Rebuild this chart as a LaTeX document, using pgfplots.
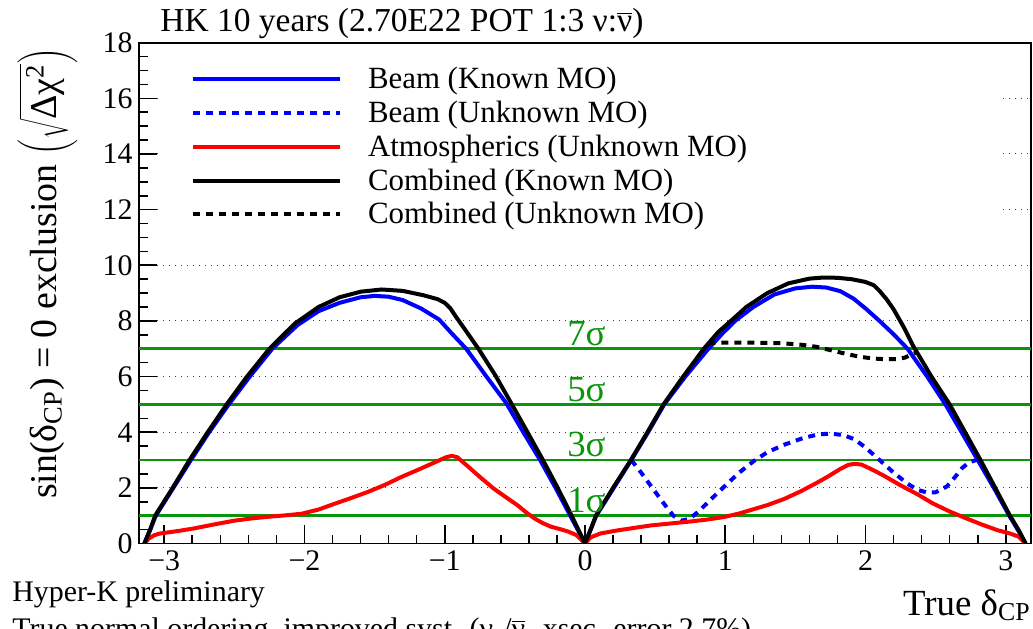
\documentclass[border=0pt]{standalone}
\usepackage{fontspec}
\setmainfont{Liberation Serif}
\usepackage{pgfplots}
\pgfplotsset{compat=1.18}
\definecolor{rootgreen}{RGB}{10,150,10}
\definecolor{rootblue}{RGB}{0,0,255}
\definecolor{rootred}{RGB}{255,0,0}

\begin{document}
\begin{tikzpicture}
\begin{axis}[
    name=ax,
    scale only axis,
    width=446bp, height=250.4bp,
    xmin=-3.18, xmax=3.18, ymin=0, ymax=18,
    axis line style={line width=0.9bp},
    tick align=inside, tick pos=left,
    tick style={line width=0.8bp, black},
    major tick length=9bp, minor tick length=4.5bp,
    xtick={-3,-2,-1,0,1,2,3},
    xticklabels={−3,−2,−1,0,1,2,3},
    minor x tick num=4,
    ytick={0,2,...,18}, minor y tick num=3,
    ymajorgrids=true,
    major grid style={dash pattern=on 0.5bp off 2.5bp, line width=0.5bp, black!75},
    /pgf/number format/assume math mode=true,
    tick label style={font=\fontsize{15}{18}\selectfont},
    yticklabel style={anchor=east, inner sep=0pt, xshift=-3bp},
    xticklabel style={anchor=north, inner sep=0pt, yshift=-3.5bp},
    xlabel={True δ\textsubscript{CP}},
    xlabel style={at={(axis description cs:1,0)}, anchor=base east, yshift=-35.75bp, inner sep=0pt, font=\fontsize{18.5}{21}\selectfont},
    ylabel={sin(δ\textsubscript{CP}) = 0 exclusion $\left(\sqrt{\mbox{Δχ\textsuperscript{2}}}\right)$},
    ylabel style={at={(axis description cs:-0.093,0.539)}, anchor=base, inner sep=0pt, font=\fontsize{19}{22}\selectfont},
    legend style={at={(axis description cs:0.0583,0.9539)}, anchor=north west, draw=none, fill=none,
        inner sep=0pt, outer sep=0pt, row sep=3.4bp, column sep=13bp,
        font=\fontsize{15.5}{17}\selectfont,
        nodes={inner sep=0pt, text height=11.5bp, text depth=2bp}},
    legend cell align=left,
    legend image code/.code={\draw[#1] (0bp,0bp) -- (73.5bp,0bp);},
    every axis plot/.append style={line join=round},
]

% legend background (hides the grid behind it)
\fill[white] (rel axis cs:0.022,0.611) rectangle (rel axis cs:0.966,0.996);

% sigma levels
\addplot[rootgreen, line width=1.3bp, forget plot] coordinates {(-3.18,1) (3.18,1)};
\addplot[rootgreen, line width=1.3bp, forget plot] coordinates {(-3.18,3) (3.18,3)};
\addplot[rootgreen, line width=1.3bp, forget plot] coordinates {(-3.18,5) (3.18,5)};
\addplot[rootgreen, line width=1.3bp, forget plot] coordinates {(-3.18,7) (3.18,7)};

% Beam (Known MO)
\addplot[rootblue, line width=2bp] coordinates {
(-3.1416,0) (-3.10,0.5) (-3.06,1.0) (-2.935,2.0) (-2.81,3.0) (-2.68,4.0) (-2.54,5.0)
(-2.39,6.0) (-2.23,7.0) (-2.05,7.85) (-1.90,8.35) (-1.75,8.65) (-1.60,8.85) (-1.50,8.9)
(-1.40,8.87) (-1.30,8.75) (-1.17,8.45) (-1.04,8.05) (-0.95,7.55) (-0.847,7.0) (-0.71,6.05)
(-0.562,5.05) (-0.44,4.0) (-0.32,3.0) (-0.21,2.0) (-0.105,1.0) (0,0)
(0.04,0.5) (0.08,1.0) (0.205,2.0) (0.33,3.0) (0.45,4.0) (0.565,5.0) (0.715,6.0) (0.88,7.0)
(0.98,7.55) (1.07,8.0) (1.20,8.5) (1.35,8.95) (1.50,9.17) (1.62,9.23) (1.72,9.2) (1.82,9.07)
(1.915,8.8) (2.00,8.45) (2.10,8.0) (2.20,7.52) (2.30,7.0) (2.44,6.0) (2.57,5.0) (2.685,4.0)
(2.80,3.0) (2.915,2.0) (3.025,1.0) (3.085,0.5) (3.1416,0)};
\addlegendentry{Beam (Known MO)}

% Beam (Unknown MO)
\addplot[rootblue, line width=2bp, dash pattern=on 3.5bp off 3bp] coordinates {
(0.33,3.0) (0.40,2.55) (0.48,2.0) (0.56,1.45) (0.63,1.0) (0.69,0.82) (0.75,0.9) (0.82,1.2)
(0.90,1.6) (1.00,2.08) (1.10,2.55) (1.20,2.95) (1.30,3.28) (1.42,3.55) (1.55,3.78) (1.66,3.92)
(1.75,3.95) (1.84,3.9) (1.92,3.75) (2.00,3.45) (2.10,3.0) (2.20,2.55) (2.30,2.15) (2.37,1.93)
(2.44,1.83) (2.50,1.84) (2.58,2.05) (2.64,2.4) (2.69,2.72) (2.74,2.92) (2.79,3.0)};
\addlegendentry{Beam (Unknown MO)}

% Atmospherics (Unknown MO)
\addplot[rootred, line width=2bp] coordinates {
(-3.1416,0) (-3.11,0.18) (-3.07,0.3) (-3.03,0.36) (-2.90,0.45) (-2.79,0.54) (-2.65,0.68)
(-2.50,0.82) (-2.38,0.9) (-2.26,0.96) (-2.14,1.01) (-2.02,1.07) (-1.90,1.22) (-1.79,1.42)
(-1.67,1.63) (-1.55,1.85) (-1.43,2.1) (-1.31,2.39) (-1.19,2.65) (-1.07,2.92) (-0.99,3.1)
(-0.95,3.15) (-0.91,3.1) (-0.83,2.75) (-0.74,2.35) (-0.65,1.97) (-0.56,1.65) (-0.48,1.37)
(-0.42,1.12) (-0.36,0.9) (-0.30,0.73) (-0.24,0.6) (-0.18,0.52) (-0.12,0.43) (-0.06,0.3) (0,0)
(0.04,0.22) (0.11,0.36) (0.23,0.47) (0.35,0.56) (0.47,0.65) (0.61,0.72) (0.75,0.79) (0.87,0.86)
(0.99,0.95) (1.10,1.08) (1.18,1.2) (1.30,1.38) (1.42,1.6) (1.54,1.88) (1.66,2.2) (1.74,2.43)
(1.82,2.68) (1.88,2.83) (1.92,2.86) (1.97,2.84) (2.05,2.65) (2.13,2.44) (2.25,2.09) (2.37,1.77)
(2.48,1.44) (2.60,1.15) (2.72,0.9) (2.83,0.68) (2.94,0.48) (3.03,0.36) (3.09,0.25) (3.1416,0)};
\addlegendentry{Atmospherics (Unknown MO)}

% Combined (Known MO)
\addplot[black, line width=2bp] coordinates {
(-3.1416,0) (-3.10,0.5) (-3.065,1.0) (-2.94,2.0) (-2.82,3.0) (-2.69,4.0) (-2.555,5.0)
(-2.41,6.0) (-2.25,7.0) (-2.07,7.9) (-1.90,8.5) (-1.75,8.85) (-1.60,9.05) (-1.45,9.13)
(-1.30,9.08) (-1.15,8.92) (-1.05,8.78) (-1.00,8.65) (-0.96,8.45) (-0.92,8.15) (-0.85,7.65)
(-0.76,7.0) (-0.64,6.05) (-0.527,5.05) (-0.41,4.0) (-0.30,3.0) (-0.20,2.05) (-0.10,1.05) (0,0)
(0.04,0.5) (0.078,1.0) (0.20,2.0) (0.327,3.0) (0.445,4.0) (0.56,5.0) (0.70,6.0) (0.847,7.0)
(0.95,7.6) (1.04,8.0) (1.15,8.5) (1.30,9.0) (1.45,9.35) (1.60,9.52) (1.70,9.56) (1.80,9.55)
(1.90,9.5) (2.00,9.4) (2.06,9.28) (2.10,9.08) (2.15,8.78) (2.20,8.42) (2.27,7.8) (2.34,7.1)
(2.47,6.0) (2.60,5.0) (2.71,4.0) (2.82,3.0) (2.925,2.0) (3.03,1.0) (3.09,0.5) (3.1416,0)};
\addlegendentry{Combined (Known MO)}

% Combined (Unknown MO)
\addplot[black, line width=2bp, dash pattern=on 3.5bp off 3bp] coordinates {
(0.88,7.2) (1.0,7.22) (1.2,7.22) (1.4,7.2) (1.55,7.14) (1.65,7.07) (1.75,6.95) (1.85,6.83)
(1.95,6.72) (2.05,6.65) (2.15,6.62) (2.22,6.63) (2.28,6.68) (2.355,6.85)};
\addlegendentry{Combined (Unknown MO)}

\node[rootgreen, font=\fontsize{18.5}{20}\selectfont, anchor=base, inner sep=0pt] at (axis cs:0.01,7.12) {7σ};
\node[rootgreen, font=\fontsize{18.5}{20}\selectfont, anchor=base, inner sep=0pt] at (axis cs:0.01,5.12) {5σ};
\node[rootgreen, font=\fontsize{18.5}{20}\selectfont, anchor=base, inner sep=0pt] at (axis cs:0.01,3.12) {3σ};
\node[rootgreen, font=\fontsize{18.5}{20}\selectfont, anchor=base, inner sep=0pt] at (axis cs:0.01,1.12) {1σ};
\end{axis}

% title line above the frame
\node[anchor=base west, inner sep=0pt, font=\fontsize{16.8}{19}\selectfont] at ([shift={(10.5bp,256bp)}]ax.south west) {HK 10 years (2.70E22 POT 1:3 ν:$\overline{\mbox{ν}}$)};

\node[anchor=base west, inner sep=0pt, font=\fontsize{15}{18}\selectfont] at ([shift={(-63.5bp,-28.75bp)}]ax.south west) {Hyper-K preliminary};
\node[anchor=base west, inner sep=0pt, font=\fontsize{15}{18}\selectfont] at ([shift={(-63.5bp,-47.25bp)}]ax.south west) {True normal ordering, improved syst. (ν\textsubscript{e}/$\overline{\mbox{ν}}$\textsubscript{e} xsec. error 2.7\%)};

\pgfresetboundingbox
\useasboundingbox ([shift={(-69.5bp,-42.75bp)}]ax.south west) rectangle ([shift={(1bp,21.35bp)}]ax.north east);
\end{tikzpicture}
\end{document}
